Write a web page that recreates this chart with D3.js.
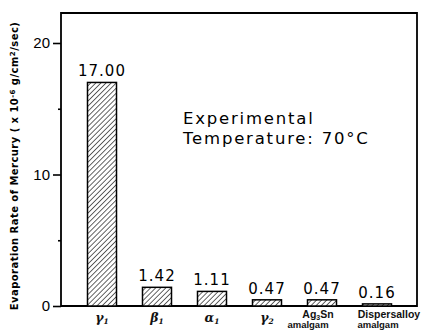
<!DOCTYPE html>
<html>
<head>
  <meta charset="utf-8">
  <script src="https://d3js.org/d3.v7.min.js"></script>
  <style>
    body { margin: 0; background: #fff; }
    svg { display: block; font-family: "DejaVu Sans", sans-serif; }
    .axis path, .axis line { stroke: #000; stroke-width: 1.6px; }
    .axis text { font-size: 15px; fill: #000; }
  </style>
</head>
<body>
  <svg width="427" height="330"></svg>
  <script>
    // data
    const categories = ["γ1", "β1", "α1", "γ2", "Ag3Sn", "Dispersalloy"];
    const values = [17.00, 1.42, 1.11, 0.47, 0.47, 0.16];
    const valueLabels = ["17.00", "1.42", "1.11", "0.47", "0.47", "0.16"];
    const yTicks = [0, 5, 10, 15, 20];

    const svg = d3.select("svg");
    const plotL = 61, plotR = 417, plotT = 13, plotB = 306;

    const x = d3.scalePoint().domain(categories).range([102, 377]);
    const y = d3.scaleLinear().domain([0, 20]).range([plotB, 43]);
    const barW = 29;

    // hatch
    const defs = svg.append("defs");
    const pat = defs.append("pattern")
      .attr("id", "hatch")
      .attr("patternUnits", "userSpaceOnUse")
      .attr("width", 3.6).attr("height", 3.6)
      .attr("patternTransform", "rotate(45)");
    pat.append("rect").attr("width", 3.6).attr("height", 3.6).attr("fill", "#fff");
    pat.append("line").attr("x1", 0).attr("y1", 0).attr("x2", 0).attr("y2", 3.6)
      .attr("stroke", "#222").attr("stroke-width", 1.4);

    // frame
    svg.append("path")
      .attr("d", `M${plotL},${plotB}V${plotT}H${plotR}V${plotB}H${plotL}`)
      .attr("fill", "none").attr("stroke", "#000").attr("stroke-width", 1.8);

    // y axis
    const yAxis = svg.append("g")
      .attr("class", "axis")
      .attr("transform", `translate(${plotL},0)`)
      .call(d3.axisLeft(y).tickValues(yTicks).tickSize(8).tickPadding(3)
        .tickFormat(d => d % 10 === 0 ? d : ""));
    yAxis.select(".domain").remove();
    yAxis.selectAll(".tick").filter(d => d % 10 !== 0)
      .select("line").attr("x2", -3);

    // bars
    svg.selectAll(".bar")
      .data(values)
      .join("rect")
      .attr("class", "bar")
      .attr("x", (d, i) => x(categories[i]) - barW / 2)
      .attr("y", d => y(d))
      .attr("width", barW)
      .attr("height", d => y(0) - y(d))
      .attr("fill", "url(#hatch)")
      .attr("stroke", "#000")
      .attr("stroke-width", 1.5);

    // value labels
    svg.selectAll(".val")
      .data(values)
      .join("text")
      .attr("class", "val")
      .attr("x", (d, i) => x(categories[i]))
      .attr("y", d => y(d) - 6)
      .attr("text-anchor", "middle")
      .attr("font-size", 15)
      .attr("letter-spacing", 1)
      .text((d, i) => valueLabels[i]);

    // category labels
    const catG = svg.append("g").attr("font-weight", "bold").attr("fill", "#111");
    categories.forEach((c, i) => {
      const cx = x(c);
      if (i < 4) {
        const t = catG.append("text").attr("x", cx).attr("y", 322)
          .attr("text-anchor", "middle").attr("font-size", 12.5)
          .attr("font-family", "'DejaVu Serif', serif").attr("font-style", "italic");
        t.append("tspan").text(c[0]);
        t.append("tspan").attr("font-size", 7.5).attr("dy", 2).text(c[1]);
      } else if (c === "Ag3Sn") {
        const t = catG.append("text").attr("x", cx - 4).attr("y", 318)
          .attr("text-anchor", "middle").attr("font-size", 10.5)
          .attr("font-family", "'Liberation Sans', sans-serif");
        t.append("tspan").text("Ag");
        t.append("tspan").attr("font-size", 7).attr("dy", 1.5).text("3");
        t.append("tspan").attr("dy", -1.5).text("Sn");
        catG.append("text").attr("x", cx - 14).attr("y", 328)
          .attr("text-anchor", "middle").attr("font-size", 9.5)
          .attr("font-family", "'Liberation Sans', sans-serif").text("amalgam");
      } else {
        catG.append("text").attr("x", cx + 12).attr("y", 318)
          .attr("text-anchor", "middle").attr("font-size", 10.5)
          .attr("font-family", "'Liberation Sans', sans-serif").text(c);
        catG.append("text").attr("x", cx + 1).attr("y", 328)
          .attr("text-anchor", "middle").attr("font-size", 9.5)
          .attr("font-family", "'Liberation Sans', sans-serif").text("amalgam");
      }
    });

    // y axis title
    const yt = svg.append("text")
      .attr("transform", "translate(18,166) rotate(-90)")
      .attr("text-anchor", "middle")
      .attr("font-size", 10)
      .attr("letter-spacing", 0.45)
      .attr("font-weight", "bold");
    yt.append("tspan").text("Evaporation Rate of Mercury ( x 10");
    yt.append("tspan").attr("font-size", 7).attr("dy", -3).text("-6");
    yt.append("tspan").attr("dy", 3).text(" g/cm");
    yt.append("tspan").attr("font-size", 7).attr("dy", -3).text("2");
    yt.append("tspan").attr("dy", 3).text("/sec)");

    // annotation
    const ann = svg.append("g").attr("font-size", 16.5).attr("letter-spacing", 1.8);
    ann.append("text").attr("x", 183).attr("y", 124).text("Experimental");
    ann.append("text").attr("x", 183).attr("y", 144).text("Temperature:  70°C");
  </script>
</body>
</html>
